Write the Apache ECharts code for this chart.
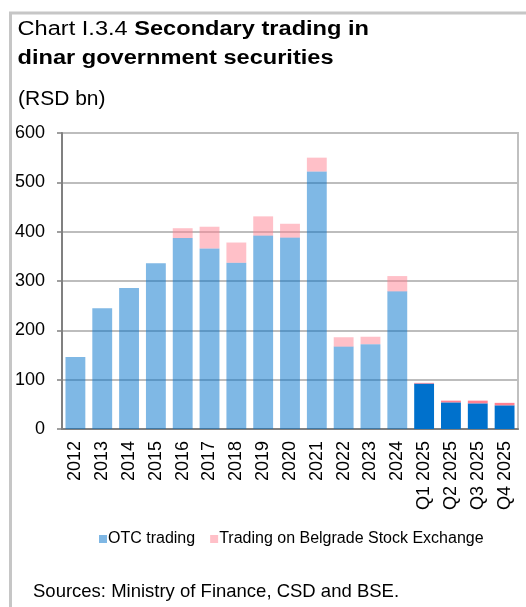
<!DOCTYPE html>
<html>
<head>
<meta charset="utf-8">
<script src="https://cdn.jsdelivr.net/npm/echarts@6/dist/echarts.min.js"></script>
<style>
  html, body { margin: 0; padding: 0; background: #fff; }
  #chart { width: 526px; height: 607px; }
</style>
</head>
<body>
<div id="chart"></div>
<script>
// Periods: annual totals 2012-2024, then quarters of 2025
const categories = ['2012', '2013', '2014', '2015', '2016', '2017', '2018', '2019', '2020',
  '2021', '2022', '2023', '2024', 'Q1 2025', 'Q2 2025', 'Q3 2025', 'Q4 2025'];
// RSD bn
const otcTrading = [146, 245, 286, 336, 387, 366, 337, 392, 388, 522, 167, 172, 279, 92, 54, 52, 48];
const bseTrading = [0, 0, 0, 0, 20, 44, 41, 39, 28, 28, 19, 15, 31, 1.5, 3.5, 5.5, 5];
const yTicks = [0, 100, 200, 300, 400, 500, 600];

const firstQuarter = categories.indexOf('Q1 2025');
const FAMILY = 'Liberation Sans';
const FONT = '"Liberation Sans", Arial, sans-serif';

// Heading is set in a horizontally widened face
const HEAD_X = 17.5, HEAD_SCALE = 1.18;
const headLead = 'Chart I.3.4 ';
const measureCtx = document.createElement('canvas').getContext('2d');
measureCtx.font = '20px ' + FONT;
const headLeadWidth = measureCtx.measureText(headLead).width * HEAD_SCALE;

// Quarterly bars are drawn solid; annual bars are the same hue, half transparent.
function toItems(values) {
  return values.map((v, i) => i >= firstQuarter ? { value: v, itemStyle: { opacity: 1 } } : v);
}

function headText(text, x, y, weight) {
  return { type: 'text', x: x, y: y, scaleX: HEAD_SCALE,
    style: { text: text, fontSize: 20, fontWeight: weight, fontFamily: FAMILY,
      fill: '#000', verticalAlign: 'middle', align: 'left' } };
}

const chart = echarts.init(document.getElementById('chart'), null, { renderer: 'canvas' });
chart.setOption({
  animation: false,
  textStyle: { fontFamily: FONT },
  graphic: [
    // panel frame (left and top edges)
    { type: 'polyline', shape: { points: [[10.5, 607], [10.5, 13], [526, 13]] },
      style: { stroke: '#c6c6c6', lineWidth: 3, fill: null } },
    headText(headLead, HEAD_X, 29, 'normal'),
    headText('Secondary trading in', HEAD_X + headLeadWidth, 29, 'bold'),
    headText('dinar government securities', HEAD_X, 58, 'bold'),
    { type: 'text', x: 18, y: 99,
      style: { text: '(RSD bn)', font: '21px ' + FONT, fill: '#000', verticalAlign: 'middle' } },
    { type: 'text', x: 33, y: 592,
      style: { text: 'Sources: Ministry of Finance, CSD and BSE.', font: '18.5px ' + FONT, fill: '#000', verticalAlign: 'middle' } }
  ],
  legend: {
    top: 531, left: 99, padding: 0,
    itemWidth: 8, itemHeight: 8, itemGap: 15,
    icon: 'rect',
    textStyle: { fontFamily: FONT, fontSize: 16, color: '#000', padding: [0, 0, 0, -4] },
    data: [
      { name: 'OTC trading', itemStyle: { color: '#7fb7e4', opacity: 1 } },
      { name: 'Trading on Belgrade Stock Exchange', itemStyle: { color: '#ffc0c8', opacity: 1 } }
    ]
  },
  grid: {
    left: 62, right: 8, top: 133, bottom: 178,
    show: true, borderColor: '#c0c0c0', borderWidth: 2, backgroundColor: 'transparent'
  },
  xAxis: {
    type: 'category',
    data: categories,
    axisLine: { lineStyle: { color: '#808080', width: 2 } },
    axisTick: { show: false },
    axisLabel: { rotate: 90, fontSize: 18, color: '#000', margin: 12, fontFamily: FONT }
  },
  yAxis: {
    type: 'value',
    min: yTicks[0], max: yTicks[yTicks.length - 1], interval: 100,
    axisLine: { show: true, lineStyle: { color: '#808080', width: 2 } },
    axisTick: { show: true, length: 5, lineStyle: { color: '#808080', width: 1.5 } },
    axisLabel: { fontSize: 18, color: '#000', margin: 17, fontFamily: FONT },
    splitLine: { lineStyle: { color: '#bdbdbd', width: 2 } }
  },
  series: [
    {
      name: 'OTC trading', type: 'bar', stack: 'total',
      barCategoryGap: '26%',
      itemStyle: { color: '#0071cc', opacity: 0.5 },
      data: toItems(otcTrading)
    },
    {
      name: 'Trading on Belgrade Stock Exchange', type: 'bar', stack: 'total',
      barCategoryGap: '26%',
      itemStyle: { color: '#ff8191', opacity: 0.5 },
      data: toItems(bseTrading)
    }
  ]
});
</script>
</body>
</html>
